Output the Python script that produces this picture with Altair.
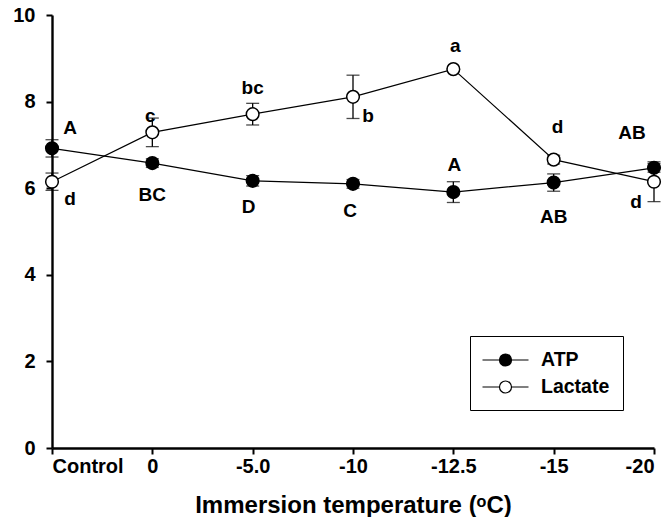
import altair as alt
import pandas as pd

# Immersion temperatures (x categories)
categories = ["Control", "0", "-5.0", "-10", "-12.5", "-15", "-20"]

# Mean values and error (SE) for each series
atp_mean = [6.92, 6.58, 6.17, 6.10, 5.91, 6.13, 6.47]
atp_err = [0.20, 0.10, 0.12, 0.10, 0.24, 0.20, 0.10]
lactate_mean = [6.15, 7.29, 7.71, 8.11, 8.75, 6.66, 6.15]
lactate_err = [0.20, 0.33, 0.25, 0.50, 0.00, 0.10, 0.46]

# Significance letters
atp_letters = ["A", "BC", "D", "C", "A", "AB", "AB"]
lactate_letters = ["d", "c", "bc", "b", "a", "d", "d"]

# Pixel offsets of the letters from their points
atp_dx = [18, 0, -4, -3, 1, 0, -22]
atp_dy = [-20, 32, 26, 27, -27, 34, -35]
lac_dx = [18, -2, 0, 15, 2, 4, -18]
lac_dy = [17, -16, -26, 19, -23, -33, 20]

W, H = 602, 433
X_MAX, Y_MAX = len(categories) - 1, 10
FONT = "Liberation Sans"

rows = []
for i in range(len(categories)):
    rows.append({"idx": i, "series": "ATP", "mean": atp_mean[i], "err": atp_err[i],
                 "letter": atp_letters[i], "dx": atp_dx[i], "dy": atp_dy[i]})
for i in range(len(categories)):
    rows.append({"idx": i, "series": "Lactate", "mean": lactate_mean[i], "err": lactate_err[i],
                 "letter": lactate_letters[i], "dx": lac_dx[i], "dy": lac_dy[i]})
df = pd.DataFrame(rows)

label_expr = "[" + ",".join(f"'{c}'" for c in categories) + "][datum.value]"

x_scale = alt.Scale(domain=[0, X_MAX], nice=False, zero=False)
y_scale = alt.Scale(domain=[0, Y_MAX], nice=False)

x_enc = alt.X(
    "idx:Q", scale=x_scale,
    axis=alt.Axis(values=list(range(len(categories))), labelExpr=label_expr,
                  title="Immersion temperature (ᵒC)", grid=False),
)
y_enc = alt.Y(
    "mean:Q", scale=y_scale,
    axis=alt.Axis(values=[0, 2, 4, 6, 8, 10], format="d", title=None, grid=False),
)

base = alt.Chart(df)

lines = base.mark_line(color="black", strokeWidth=1.2).encode(
    x=x_enc, y=y_enc, detail="series:N"
)

err = base.transform_calculate(
    lo="datum.mean - datum.err", hi="datum.mean + datum.err"
)
err_rules = err.mark_rule(color="black", strokeWidth=1.3).encode(
    x=alt.X("idx:Q", scale=x_scale), y=alt.Y("lo:Q", scale=y_scale), y2="hi:Q"
)
cap_lo = err.mark_tick(color="black", orient="horizontal", size=13, thickness=1.3).encode(
    x=alt.X("idx:Q", scale=x_scale), y=alt.Y("lo:Q", scale=y_scale)
)
cap_hi = err.mark_tick(color="black", orient="horizontal", size=13, thickness=1.3).encode(
    x=alt.X("idx:Q", scale=x_scale), y=alt.Y("hi:Q", scale=y_scale)
)

# legend symbol: short line with a circle on it
legend_symbol = ("M-1.15,0H0.55M1.75,0H3.45"
                 "M0.55,0A0.6,0.6 0 1,1 1.75,0A0.6,0.6 0 1,1 0.55,0Z")

points = base.mark_point(filled=True, shape="circle", size=160, stroke="black",
                         strokeWidth=1.5, opacity=1).encode(
    x=x_enc, y=y_enc,
    fill=alt.Fill(
        "series:N",
        scale=alt.Scale(domain=["ATP", "Lactate"], range=["black", "white"]),
        legend=alt.Legend(
            title=None, orient="none", legendX=418, legendY=321,
            symbolType=legend_symbol, symbolSize=400, symbolStrokeColor="black",
            symbolStrokeWidth=1.2, labelFont=FONT, labelFontSize=19.5,
            labelFontWeight="bold", labelColor="black", labelOffset=36,
            rowPadding=6, padding=13, strokeColor="black",
        ),
    ),
)

letters = base.transform_calculate(
    lx=f"datum.idx + datum.dx * {X_MAX} / {W}",
    ly=f"datum.mean - datum.dy * {Y_MAX} / {H}",
).mark_text(font=FONT, fontSize=19, fontWeight="bold", color="black",
            align="center", baseline="middle").encode(
    x=alt.X("lx:Q", scale=x_scale), y=alt.Y("ly:Q", scale=y_scale), text="letter:N"
)

chart = alt.layer(lines, err_rules, cap_lo, cap_hi, points, letters).properties(
    width=W, height=H,
    autosize=alt.AutoSizeParams(type="none"),
    padding={"left": 52, "top": 15, "right": 17, "bottom": 69},
).configure_view(stroke=None).configure_axis(
    domainColor="black", domainWidth=2.4, tickColor="black", tickWidth=2,
    tickSize=6, labelFont=FONT, labelFontSize=20, labelFontWeight="bold",
    labelColor="black", titleFont=FONT, titleFontSize=24, titleFontWeight="bold",
    titleColor="black",
).configure_axisX(labelPadding=2, titlePadding=17).configure_axisY(labelPadding=11)

chart.save("out.html", embed_options={"renderer": "svg", "actions": False})
